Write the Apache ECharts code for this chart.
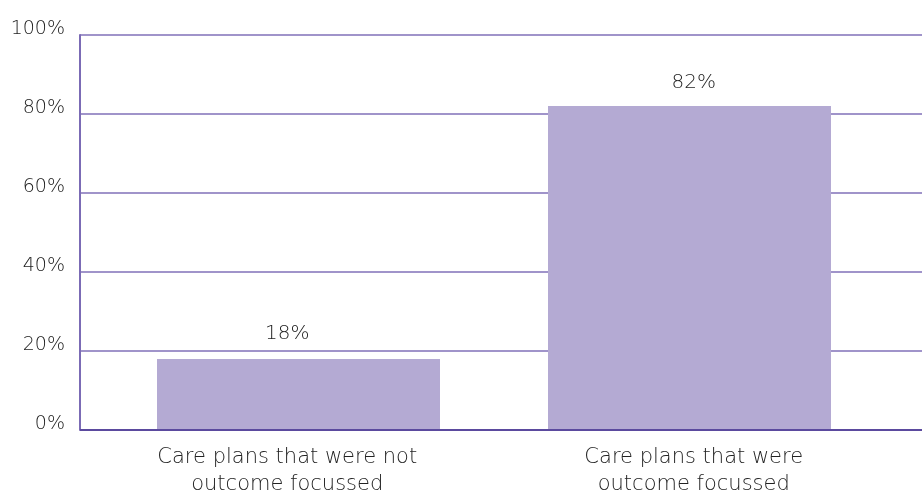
<!DOCTYPE html>
<html><head><meta charset="utf-8">
<script src="https://cdn.jsdelivr.net/npm/echarts@6/dist/echarts.min.js"></script>
<style>html,body{margin:0;padding:0;background:#fff}#c{width:922px;height:498px}</style>
</head><body><div id="c"></div>
<script>
const categories = ['Care plans that were not\noutcome focussed', 'Care plans that were\noutcome focussed'];
const values = [18, 82];
const yTicks = [0, 20, 40, 60, 80, 100];

const chart = echarts.init(document.getElementById('c'));
const font = '"DejaVu Sans", sans-serif';
const textColor = '#222222';
chart.setOption({
  animation: false,
  grid: [
    {left: 80, right: 0, top: 35, bottom: 68},
    {left: 103, right: 37, top: 35, bottom: 68},
    {left: 84, right: 25, top: 35, bottom: 68}
  ],
  xAxis: [
    {gridIndex: 0, type: 'category', data: ['a'], show: false},
    {gridIndex: 1, type: 'category', data: categories, show: false},
    {gridIndex: 2, type: 'category', data: categories,
     axisLine: {show: false}, axisTick: {show: false},
     axisLabel: {color: textColor, fontFamily: font, fontWeight: 200, fontSize: 21, lineHeight: 27, margin: 17, interval: 0}}
  ],
  yAxis: [
    {gridIndex: 0, type: 'value', min: 0, max: 100, interval: 20,
     axisLine: {show: true, lineStyle: {color: '#7b6bb5', width: 2}},
     axisTick: {show: false},
     splitLine: {show: true, lineStyle: {color: '#8070b8', width: 1.5}},
     axisLabel: {formatter: v => yTicks.includes(v) ? v + '%' : '', color: textColor, fontFamily: font, fontWeight: 200, fontSize: 19, margin: 15, verticalAlign: 'bottom', lineHeight: 12}},
    {gridIndex: 1, type: 'value', min: 0, max: 100, show: false},
    {gridIndex: 2, type: 'value', min: 0, max: 100, show: false}
  ],
  series: [
    {type: 'bar', xAxisIndex: 1, yAxisIndex: 1, data: values, barWidth: 283,
     itemStyle: {color: '#b4aad3'}, z: 3},
    {type: 'bar', xAxisIndex: 2, yAxisIndex: 2, data: values, barWidth: 10,
     itemStyle: {color: 'rgba(0,0,0,0)'}, z: 4,
     label: {show: true, position: 'top', distance: 13, formatter: '{c}%', color: textColor, fontFamily: font, fontWeight: 200, fontSize: 20}},
    {type: 'line', xAxisIndex: 0, yAxisIndex: 0, data: [], markLine: {silent: true, symbol: 'none', label: {show: false},
     lineStyle: {color: '#5b4a9e', width: 2, type: 'solid'}, data: [{yAxis: 0}]}, z: 5}
  ]
});
</script></body></html>
